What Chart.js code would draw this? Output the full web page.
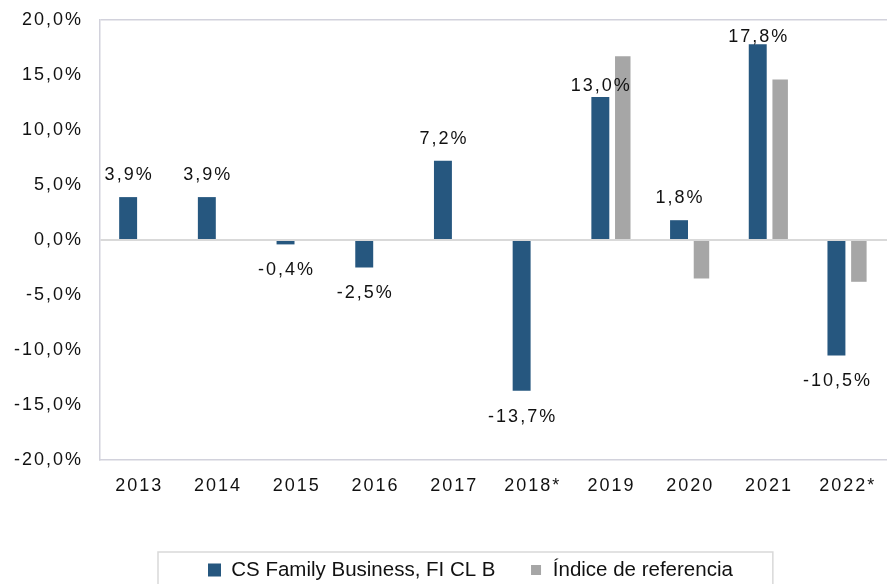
<!DOCTYPE html>
<html>
<head>
<meta charset="utf-8">
<script src="https://cdn.jsdelivr.net/npm/chart.js@4/dist/chart.umd.min.js"></script>
<style>
  html, body { margin: 0; padding: 0; background: #fff; }
  canvas { display: block; }
</style>
</head>
<body>
<canvas id="chart" width="887" height="584"></canvas>
<script>
const years = ["2013", "2014", "2015", "2016", "2017", "2018*", "2019", "2020", "2021", "2022*"];
const fundReturns = [3.9, 3.9, -0.4, -2.5, 7.2, -13.7, 13.0, 1.8, 17.8, -10.5];
const benchmarkReturns = [null, null, null, null, null, null, 16.7, -3.5, 14.6, -3.8];
const yTicks = [-20, -15, -10, -5, 0, 5, 10, 15, 20];
const seriesNames = ["CS Family Business, FI CL B", "Índice de referencia"];

const BLUE = "#26577f";
const GREY = "#a6a6a6";
const FRAME = "#d2d2dc";
const FONT = "'Liberation Sans', Arial, Helvetica, sans-serif";
const NUM_SPACING = "2px";

const fmt = (v) => v.toFixed(1).replace(".", ",") + "%";

// numbers in the picture are drawn wider than the legend text
const spacing = {
  id: "spacing",
  beforeDraw(chart) { chart.ctx.letterSpacing = NUM_SPACING; },
  beforeDatasetsDraw(chart) { chart.ctx.letterSpacing = "0px"; }
};

// value labels only on the fund series, outside end
const valueLabels = {
  id: "valueLabels",
  afterDatasetsDraw(chart) {
    const ctx = chart.ctx;
    const meta = chart.getDatasetMeta(0);
    const nudge = { 6: 11 };
    ctx.save();
    ctx.letterSpacing = NUM_SPACING;
    ctx.font = "18px " + FONT;
    ctx.fillStyle = "#111";
    ctx.textAlign = "center";
    ctx.textBaseline = "middle";
    meta.data.forEach((bar, i) => {
      const v = fundReturns[i];
      let y;
      if (v >= 0) {
        y = Math.max(bar.y - 22, chart.chartArea.top + 17) + (nudge[i] || 0);
      } else {
        y = bar.y + 26;
      }
      ctx.fillText(fmt(v), bar.x + 1, y);
    });
    ctx.restore();
  }
};

// place the legend like the original and frame it
const legendFrame = {
  id: "legendFrame",
  afterLayout(chart) {
    const lg = chart.legend;
    if (!lg._plain) {
      const draw = lg.draw.bind(lg);
      lg.draw = function (area) {
        const prev = chart.ctx.letterSpacing;
        chart.ctx.letterSpacing = "0px";
        draw(area);
        chart.ctx.letterSpacing = prev;
      };
      lg._plain = true;
    }
    const P = lg.options.labels.padding;
    const startX = ((lg.left + P) + (lg.right - lg.lineWidths[0])) / 2;
    const dx = 208 - startX;
    lg.left += dx;
    lg.right += dx;
    const h = lg.height;
    lg.top = 570 - 10.25 - P;
    lg.bottom = lg.top + h;
  },
  afterDraw(chart) {
    const lg = chart.legend;
    const P = lg.options.labels.padding;
    const x0 = 208 - 50;
    const x1 = 208 + lg.lineWidths[0] - P + 40;
    const ctx = chart.ctx;
    ctx.save();
    ctx.strokeStyle = "#d9d9d9";
    ctx.lineWidth = 1.5;
    ctx.strokeRect(x0, 552, x1 - x0, 60);
    ctx.restore();
  }
};

new Chart(document.getElementById("chart"), {
  type: "bar",
  data: {
    labels: years,
    datasets: [
      {
        label: seriesNames[0],
        data: fundReturns,
        backgroundColor: BLUE,
        barPercentage: 0.8,
        categoryPercentage: 0.57
      },
      {
        label: seriesNames[1],
        data: benchmarkReturns,
        backgroundColor: GREY,
        barPercentage: 0.69,
        categoryPercentage: 0.57
      }
    ]
  },
  options: {
    responsive: false,
    animation: false,
    layout: { padding: { top: 20, right: -4, left: 0, bottom: 0 } },
    plugins: {
      tooltip: { enabled: false },
      legend: {
        position: "bottom",
        labels: {
          font: { family: FONT, size: 20.5 },
          color: "#111",
          boxWidth: 13,
          boxHeight: 13,
          padding: 34,
          generateLabels(chart) {
            const items = Chart.defaults.plugins.legend.labels.generateLabels(chart);
            items.forEach((it, i) => {
              if (i === 1) {
                it.strokeStyle = "#fff";
                it.lineWidth = 3;
              } else {
                it.lineWidth = 0;
              }
            });
            return items;
          }
        }
      }
    },
    scales: {
      x: {
        grid: { display: false, drawTicks: false },
        border: { display: true, color: FRAME, width: 1.5 },
        ticks: {
          font: { family: FONT, size: 18 },
          color: "#111",
          padding: 15,
          maxRotation: 0
        },
        afterFit(s) {
          const lh = (s.chart.legend && s.chart.legend.height) || 0;
          s.height = 584 - 460 - lh;
          s.paddingLeft = 0;
          s.paddingRight = 0;
        }
      },
      y: {
        min: -20,
        max: 20,
        afterBuildTicks(s) { s.ticks = yTicks.map((v) => ({ value: v })); },
        grid: {
          drawTicks: false,
          color: (c) => c.tick.value === 0 ? "#d9d9d9" : (c.tick.value === 20 ? FRAME : "rgba(0,0,0,0)"),
          lineWidth: (c) => c.tick.value === 0 ? 2 : 1.5
        },
        border: { display: true, color: FRAME, width: 1.5 },
        ticks: {
          font: { family: FONT, size: 18 },
          color: "#111",
          padding: 17,
          callback: (v) => fmt(v)
        },
        afterFit(s) {
          s.width = 100;
          s.paddingTop = 0;
          s.paddingBottom = 0;
        }
      }
    }
  },
  plugins: [spacing, valueLabels, legendFrame]
});
</script>
</body>
</html>
